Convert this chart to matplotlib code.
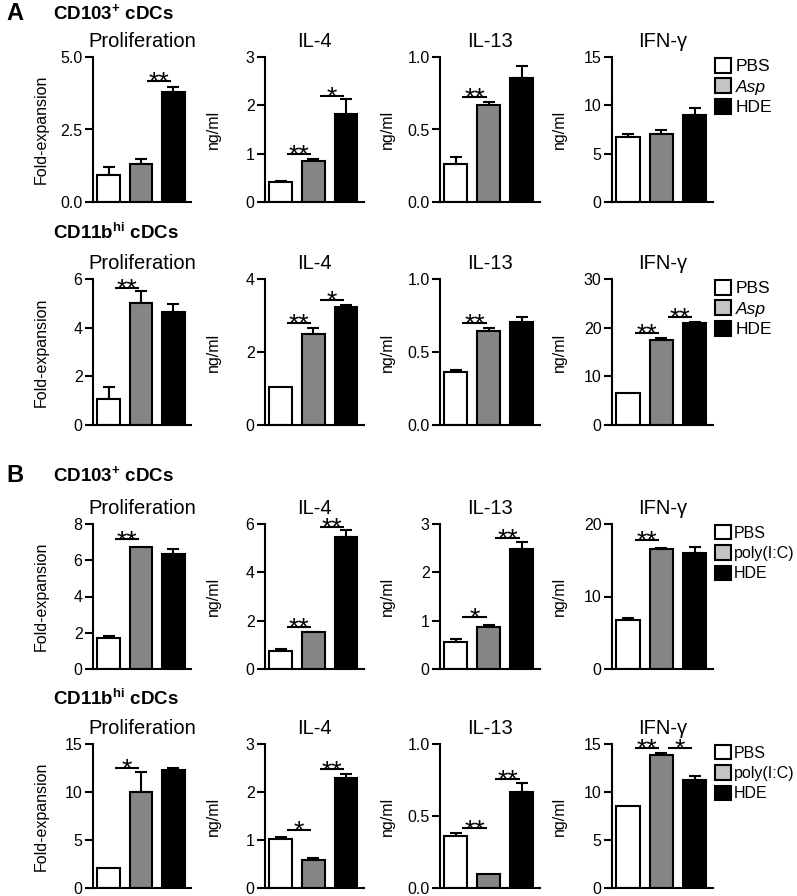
import matplotlib
matplotlib.use("Agg")
import matplotlib.pyplot as plt
from matplotlib.patches import Patch

plt.rcParams['font.family'] = ['Liberation Sans', 'DejaVu Sans']
plt.rcParams['mathtext.fontset'] = 'custom'
plt.rcParams['mathtext.rm'] = 'Liberation Sans'
plt.rcParams['mathtext.bf'] = 'Liberation Sans:bold'
plt.rcParams['mathtext.it'] = 'Liberation Sans:italic'

# ---------------- data ----------------
groups_A = ['PBS', 'Asp', 'HDE']
groups_B = ['PBS', 'poly(I:C)', 'HDE']
panel_titles = ['Proliferation', 'IL-4', 'IL-13', 'IFN-γ']
row_headers = [r'CD103$^{\mathbf{+}}$ cDCs', r'CD11b$^{\mathbf{hi}}$ cDCs',
               r'CD103$^{\mathbf{+}}$ cDCs', r'CD11b$^{\mathbf{hi}}$ cDCs']

# Row A1: CD103+ cDCs, Asp
prolif_A1 = [0.93, 1.31, 3.80]; prolif_A1_err = [0.27, 0.16, 0.17]
il4_A1 = [0.42, 0.855, 1.83];   il4_A1_err = [0.02, 0.04, 0.30]
il13_A1 = [0.26, 0.67, 0.857];  il13_A1_err = [0.05, 0.02, 0.08]
ifn_A1 = [6.76, 7.03, 9.0];     ifn_A1_err = [0.24, 0.42, 0.75]

# Row A2: CD11bhi cDCs, Asp
prolif_A2 = [1.07, 5.03, 4.66]; prolif_A2_err = [0.51, 0.46, 0.32]
il4_A2 = [1.05, 2.49, 3.22];    il4_A2_err = [0.0, 0.16, 0.07]
il13_A2 = [0.365, 0.644, 0.703]; il13_A2_err = [0.01, 0.023, 0.035]
ifn_A2 = [6.5, 17.45, 20.9];    ifn_A2_err = [0.0, 0.35, 0.3]

# Row B1: CD103+ cDCs, poly(I:C)
prolif_B1 = [1.69, 6.74, 6.34]; prolif_B1_err = [0.15, 0.0, 0.28]
il4_B1 = [0.76, 1.52, 5.47];    il4_B1_err = [0.05, 0.03, 0.27]
il13_B1 = [0.55, 0.86, 2.48];   il13_B1_err = [0.07, 0.06, 0.15]
ifn_B1 = [6.72, 16.6, 16.0];    ifn_B1_err = [0.25, 0.15, 0.8]

# Row B2: CD11bhi cDCs, poly(I:C)
prolif_B2 = [2.07, 10.03, 12.27]; prolif_B2_err = [0.0, 2.04, 0.23]
il4_B2 = [1.02, 0.59, 2.30];      il4_B2_err = [0.05, 0.04, 0.07]
il13_B2 = [0.363, 0.099, 0.667];  il13_B2_err = [0.017, 0.0, 0.063]
ifn_B2 = [8.55, 13.9, 11.2];      ifn_B2_err = [0.0, 0.17, 0.5]

# y-axis ticks per panel
ticks_A1 = [[0, 2.5, 5], [0, 1, 2, 3], [0, 0.5, 1.0], [0, 5, 10, 15]]
labels_A1 = [['0.0', '2.5', '5.0'], None, ['0.0', '0.5', '1.0'], None]
ticks_A2 = [[0, 2, 4, 6], [0, 2, 4], [0, 0.5, 1.0], [0, 10, 20, 30]]
labels_A2 = [None, None, ['0.0', '0.5', '1.0'], None]
ticks_B1 = [[0, 2, 4, 6, 8], [0, 2, 4, 6], [0, 1, 2, 3], [0, 10, 20]]
labels_B1 = [None, None, None, None]
ticks_B2 = [[0, 5, 10, 15], [0, 1, 2, 3], [0, 0.5, 1.0], [0, 5, 10, 15]]
labels_B2 = [None, None, ['0.0', '0.5', '1.0'], None]

# significance: (bar i, bar j, label, line height)
sig_A1 = [[(1, 2, '**', 4.17)], [(0, 1, '**', 0.99), (1, 2, '*', 2.19)],
          [(0, 1, '**', 0.722)], []]
sig_A2 = [[(0, 1, '**', 5.62)], [(0, 1, '**', 2.79), (1, 2, '*', 3.42)],
          [(0, 1, '**', 0.70)], [(0, 1, '**', 18.95), (1, 2, '**', 22.2)]]
sig_B1 = [[(0, 1, '**', 7.15)], [(0, 1, '**', 1.75), (1, 2, '**', 5.88)],
          [(0, 1, '*', 1.07), (1, 2, '**', 2.72)], [(0, 1, '**', 17.8)]]
sig_B2 = [[(0, 1, '*', 12.5)], [(0, 1, '*', 1.21), (1, 2, '**', 2.47)],
          [(0, 1, '**', 0.414), (1, 2, '**', 0.759)],
          [(0, 1, '**', 14.6), (1, 2, '*', 14.6)]]

rows = [
    dict(vals=[prolif_A1, il4_A1, il13_A1, ifn_A1],
         errs=[prolif_A1_err, il4_A1_err, il13_A1_err, ifn_A1_err],
         ticks=ticks_A1, labels=labels_A1, sig=sig_A1, groups=groups_A),
    dict(vals=[prolif_A2, il4_A2, il13_A2, ifn_A2],
         errs=[prolif_A2_err, il4_A2_err, il13_A2_err, ifn_A2_err],
         ticks=ticks_A2, labels=labels_A2, sig=sig_A2, groups=groups_A),
    dict(vals=[prolif_B1, il4_B1, il13_B1, ifn_B1],
         errs=[prolif_B1_err, il4_B1_err, il13_B1_err, ifn_B1_err],
         ticks=ticks_B1, labels=labels_B1, sig=sig_B1, groups=groups_B),
    dict(vals=[prolif_B2, il4_B2, il13_B2, ifn_B2],
         errs=[prolif_B2_err, il4_B2_err, il13_B2_err, ifn_B2_err],
         ticks=ticks_B2, labels=labels_B2, sig=sig_B2, groups=groups_B),
]

# ---------------- layout ----------------
W, H = 797, 896
fig = plt.figure(figsize=(W / 100, H / 100), dpi=100)

col_left = [93, 265, 440, 612]
col_right = [191, 364, 540, 713]
row_top = [57, 279, 524, 744]
row_bot = [202, 425, 669, 888]
header_y = [13, 233, 475, 699]
panel_letters = {0: 'A', 2: 'B'}

bar_colors = ['white', '#858585', 'black']
legend_colors = ['white', '#c4c4c4', 'black']
xpos = [0, 1, 2]
LW = 1.5

for r, row in enumerate(rows):
    fig.text(53 / W, 1 - header_y[r] / H, row_headers[r], fontsize=13.5,
             fontweight='bold', ha='left', va='center')
    if r in panel_letters:
        fig.text(6 / W, 1 - header_y[r] / H, panel_letters[r], fontsize=17,
                 fontweight='bold', ha='left', va='center')
    for c in range(4):
        l = col_left[c] / W
        b = 1 - row_bot[r] / H
        w = (col_right[c] - col_left[c]) / W
        h = (row_bot[r] - row_top[r]) / H
        ax = fig.add_axes([l, b, w, h])
        vals = row['vals'][c]
        errs = row['errs'][c]
        ax.bar(xpos, vals, width=0.7, color=bar_colors, edgecolor='black',
               linewidth=LW, zorder=2)
        for x, v, e in zip(xpos, vals, errs):
            if e > 0:
                ax.errorbar([x], [v], yerr=[[0], [e]], fmt='none',
                            ecolor='black', elinewidth=LW, capsize=4.2,
                            capthick=LW, zorder=1)
        ticks = row['ticks'][c]
        ax.set_ylim(0, ticks[-1])
        ax.set_xlim(-0.48, 2.55)
        ax.set_yticks(ticks)
        if row['labels'][c] is not None:
            ax.set_yticklabels(row['labels'][c])
        else:
            ax.set_yticklabels([str(t) for t in ticks])
        ax.set_xticks([])
        for s in ['top', 'right']:
            ax.spines[s].set_visible(False)
        for s in ['left', 'bottom']:
            ax.spines[s].set_linewidth(LW)
        ax.tick_params(axis='y', direction='out', length=5.5, width=LW,
                       labelsize=11.5, pad=2)
        ax.set_title(panel_titles[c], fontsize=14.5, pad=7)
        ax.set_ylabel('Fold-expansion' if c == 0 else 'ng/ml', fontsize=11.5)
        ax.yaxis.set_label_coords(-0.45, 0.5)
        for (i, j, lab, y) in row['sig'][c]:
            ax.plot([xpos[i] + 0.2, xpos[j] - 0.07], [y, y], color='black',
                    lw=LW, clip_on=False, solid_capstyle='butt')
            ax.annotate(lab, xy=((xpos[i] + 0.2 + xpos[j] - 0.07) / 2, y),
                        xytext=(0, -6.5), textcoords='offset points',
                        ha='center', va='baseline', fontsize=19,
                        annotation_clip=False)
        if c == 3:
            is_asp = row['groups'][1] == 'Asp'
            handles = [Patch(facecolor=fc, edgecolor='black', linewidth=LW)
                       for fc in legend_colors]
            leg = ax.legend(handles, row['groups'], loc='upper left',
                            bbox_to_anchor=(715 / W, 1 - (row_top[r] + 1) / H),
                            bbox_transform=fig.transFigure, frameon=False,
                            fontsize=12.5 if is_asp else 11.5,
                            handlelength=0.95 if is_asp else 1.0,
                            handleheight=0.95 if is_asp else 1.0,
                            handletextpad=0.25 if is_asp else 0.2,
                            labelspacing=0.22 if is_asp else 0.3,
                            borderpad=0, borderaxespad=0)
            if is_asp:
                leg.get_texts()[1].set_fontstyle('italic')

fig.savefig('out.png', dpi=100)
